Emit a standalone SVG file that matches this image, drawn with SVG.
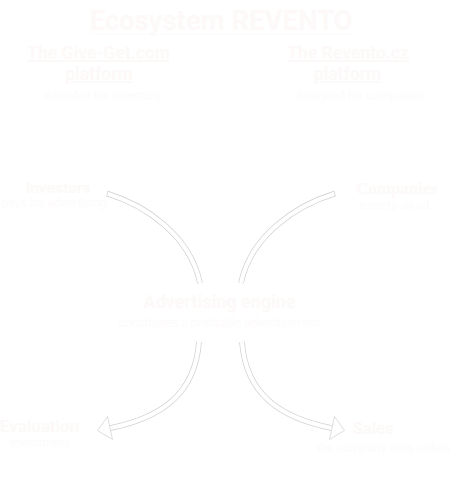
<svg xmlns="http://www.w3.org/2000/svg" width="450" height="482" viewBox="0 0 450 482">
<style>
text{font-family:Roboto,"Liberation Sans",sans-serif;text-anchor:middle}
.h{font-weight:bold;fill:#fcf9f8}
.s{font-size:12px;fill:#fdfbfb}
.u{text-decoration:underline}
.o{fill:none;stroke:#cfcfcf;stroke-width:5.6}
.i{fill:none;stroke:#ffffff;stroke-width:4.2}
.hd{fill:#ffffff;stroke:#cfcfcf;stroke-width:0.7;stroke-linejoin:miter}
</style>
<rect width="450" height="482" fill="#ffffff"/>
<g id="title">
<text class="h" x="221" y="30" font-size="27.5">Ecosystem REVENTO</text>
<line x1="90" y1="34" x2="352" y2="34" stroke="#fcfafa" stroke-width="0.8"/>
</g>
<g id="givget">
<text class="h u" x="98.5" y="59" font-size="17.5">The Give-Get.com</text>
<text class="h u" x="99" y="80" font-size="17.5">platform</text>
<text class="s" x="102.5" y="100">intended for investors</text>
</g>
<g id="revento">
<text class="h u" x="348" y="59" font-size="17.5">The Revento.cz</text>
<text class="h u" x="347.5" y="80" font-size="17.5">platform</text>
<text class="s" x="360.5" y="100">designed for companies</text>
</g>
<g id="investors">
<text class="h" x="58" y="193" font-size="15.5">Investors</text>
<text class="s" x="54" y="207">pays for advertising</text>
</g>
<g id="companies">
<text class="h" x="396.5" y="194" font-size="17" style="font-family:'Liberation Serif',serif">Companies</text>
<text class="s" x="395" y="210" font-size="11.5">inserts an ad</text>
</g>
<g id="engine">
<text class="h" x="219.5" y="308" font-size="18">Advertising engine</text>
<text class="s" x="219.5" y="326.5">constitutes a profitable advertisement</text>
</g>
<g id="evaluation">
<text class="h" x="39.5" y="432" font-size="17">Evaluation</text>
<text class="s" x="40" y="446.5">investment</text>
</g>
<g id="sales">
<text class="h" x="373" y="434" font-size="16.5">Sales</text>
<text class="s" x="384" y="451.5">the company wins orders</text>
</g>
<g id="connectors">
<path class="o" d="M107,193.5 C145,205 190,235 200,283"/>
<path class="i" stroke-dasharray="0 0.7 2000" d="M107,193.5 C145,205 190,235 200,283"/>
<path class="o" d="M335,193.5 C297,205 251,235 241,283"/>
<path class="i" stroke-dasharray="0 0.7 2000" d="M335,193.5 C297,205 251,235 241,283"/>
<polygon class="hd" points="97.5,430.5 107.5,416.5 112.5,439.5"/>
<path class="o" d="M199,342 C195,395 160,418 110.5,428"/>
<path class="i" d="M199,342 C195,395 160,418 110.5,428"/>
<polygon class="hd" points="344.5,430.5 334.5,416.5 329.5,439.5"/>
<path class="o" d="M242,342 C246,395 281,418 331.5,428"/>
<path class="i" d="M242,342 C246,395 281,418 331.5,428"/>
</g>
</svg>
